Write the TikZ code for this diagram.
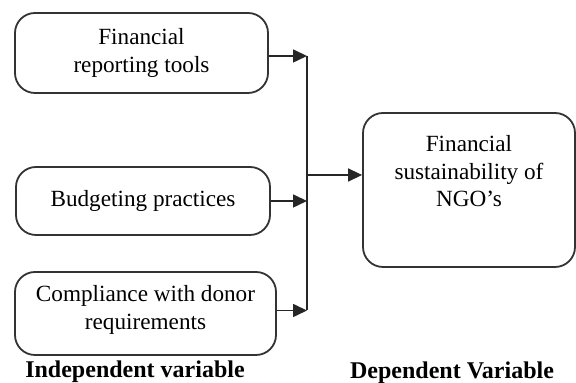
\documentclass[tikz,border=0pt]{standalone}
\usepackage{fontspec}
\setmainfont{Liberation Serif}
\usetikzlibrary{arrows.meta, positioning}

\begin{document}
\begin{tikzpicture}[
    x=0.5pt, y=0.5pt,
    font=\fontsize{11.6}{13.8}\selectfont,
    varbox/.style={draw=black!80, line width=0.9pt, rounded corners=10pt,
                   align=center, inner sep=2pt},
    flow/.style={draw=black!85, line width=0.8pt,
                 -{Triangle[length=7pt, width=6.5pt]}},
    trunkline/.style={draw=black!85, line width=0.8pt},
    caption/.style={font=\bfseries\fontsize{12}{14}\selectfont},
]

% ===== Frame =====
\useasboundingbox (0,0) rectangle (576,383);

% x position of the vertical collector line
\def\xT{307}

% ===== Independent variables (left column) =====
\node[varbox, minimum width=126.5pt, minimum height=40pt] (rep) at (141.5,330)
    {Financial\\reporting tools};
\node[varbox, minimum width=127pt, minimum height=34pt] (bud) at (143,182)
    {Budgeting practices};
\node[varbox, minimum width=130.5pt, minimum height=41.5pt, text depth=6pt] (comp) at (145.5,69.5)
    {Compliance with donor\\requirements};

% ===== Dependent variable (right) =====
% text sits in the upper part of the box
\node[varbox, minimum width=106pt, minimum height=77pt, text depth=19pt] (sust) at (469,193)
    {Financial\\sustainability of\\NGO's};

% ===== Collector line and arrows =====
\coordinate (trunk) at (\xT,0);
\coordinate (hub) at (\xT,208);
\coordinate (repout) at ([yshift=-1.5pt]rep.east);
\coordinate (compout) at ([yshift=1.5pt]comp.east);

\draw[flow] (repout) -- (repout -| trunk);
\draw[flow] (bud.east) -- (bud.east -| trunk);
\draw[flow] (compout) -- (compout -| trunk);
\draw[trunkline] (repout -| trunk) -- (compout -| trunk);
\draw[flow] (hub) -- (hub -| sust.west);

% ===== Captions =====
\node[caption] (indep) at (135,11) {Independent variable};
\node[caption] (dep) at (452,10) {Dependent Variable};

\end{tikzpicture}
\end{document}
